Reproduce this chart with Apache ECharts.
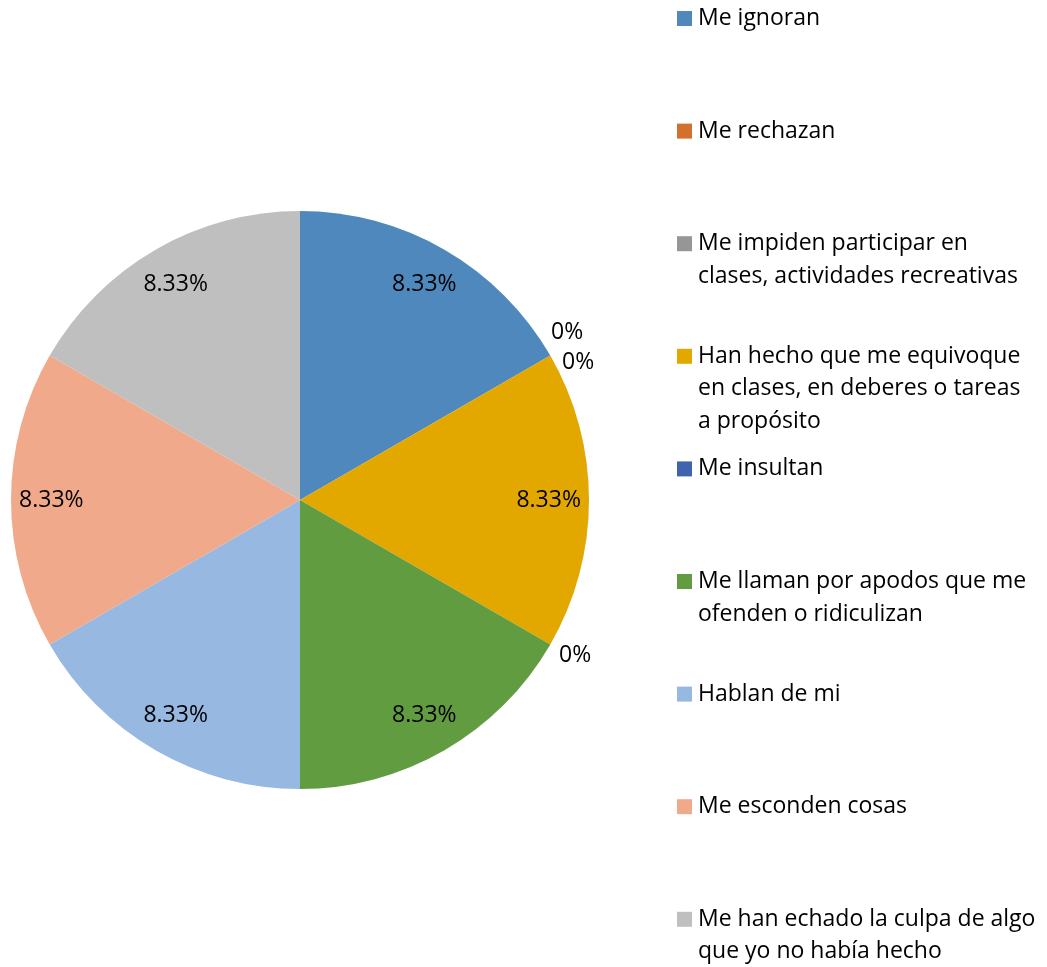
<!DOCTYPE html>
<html>
<head>
<meta charset="utf-8">
<script src="https://cdn.jsdelivr.net/npm/echarts@6/dist/echarts.min.js"></script>
<style>
  html, body { margin: 0; padding: 0; background: #fff; }
  #chart { width: 1047px; height: 967px; }
</style>
</head>
<body>
<div id="chart"></div>
<script>
  // categorías (en el orden de la leyenda)
  const categories = [
    'Me ignoran',
    'Me rechazan',
    'Me impiden participar en\nclases, actividades recreativas',
    'Han hecho que me equivoque\nen clases, en deberes o tareas\na propósito',
    'Me insultan',
    'Me llaman por apodos que me\nofenden o ridiculizan',
    'Hablan de mi',
    'Me esconden cosas',
    'Me han echado la culpa de algo\nque yo no había hecho'
  ];
  // porcentajes
  const values = [8.33, 0, 0, 8.33, 0, 8.33, 8.33, 8.33, 8.33];
  const colors = ['#4f88bc', '#d4702e', '#969696', '#e3a800', '#3f63ae', '#629c40', '#97b8e0', '#f0a98a', '#bfbfbf'];

  const FONT = '"Open Sans", sans-serif';
  const chart = echarts.init(document.getElementById('chart'));

  const center = [300, 500];
  const R = 289;
  const data = categories.map((name, i) => ({ name, value: values[i], itemStyle: { color: colors[i] } }));

  // leyenda a la derecha
  const legendTop = 11, legendStep = 112.6, lineH = 32.5;
  const graphic = [];
  categories.forEach((name, i) => {
    const top = legendTop + legendStep * i;
    graphic.push({
      type: 'rect', left: 677, top: top,
      shape: { width: 15, height: 15 },
      style: { fill: colors[i] }
    });
    graphic.push({
      type: 'text', left: 698, top: top + 7.5 - lineH / 2,
      style: { text: name, font: '23px ' + FONT, fill: '#000', lineHeight: lineH }
    });
  });

  // separar las etiquetas "0%" que caen en el mismo ángulo
  const zeroShift = { 1: [-12, -19], 2: [-1, 11], 4: [-4, 6] };

  const option = {
    animation: false,
    graphic: graphic,
    series: [
      {
        type: 'pie',
        center: center,
        radius: [0, R],
        startAngle: 90,
        clockwise: true,
        avoidLabelOverlap: false,
        data: data,
        itemStyle: { borderColor: '#fff', borderWidth: 0 },
        label: {
          show: true,
          position: 'outside',
          fontFamily: FONT,
          fontSize: 23,
          color: '#000',
          formatter: p => p.value === 0 ? p.value + '%' : ''
        },
        labelLine: { show: false, length: 9, length2: 0 },
        labelLayout: params => {
          const s = zeroShift[params.dataIndex];
          return s ? { dx: s[0], dy: s[1] } : {};
        },
        emphasis: { disabled: true }
      },
      {
        // capa transparente para colocar las etiquetas internas
        type: 'pie',
        center: center,
        radius: [R * 0.7, R],
        startAngle: 90,
        silent: true,
        data: categories.map((name, i) => ({ name, value: values[i] })),
        itemStyle: { color: 'rgba(0,0,0,0)' },
        label: {
          show: true,
          position: 'inside',
          fontFamily: FONT,
          fontSize: 23,
          color: '#000',
          formatter: p => p.value === 0 ? '' : p.value.toFixed(2) + '%'
        },
        labelLine: { show: false },
        emphasis: { disabled: true }
      }
    ]
  };
  chart.setOption(option);
</script>
</body>
</html>
